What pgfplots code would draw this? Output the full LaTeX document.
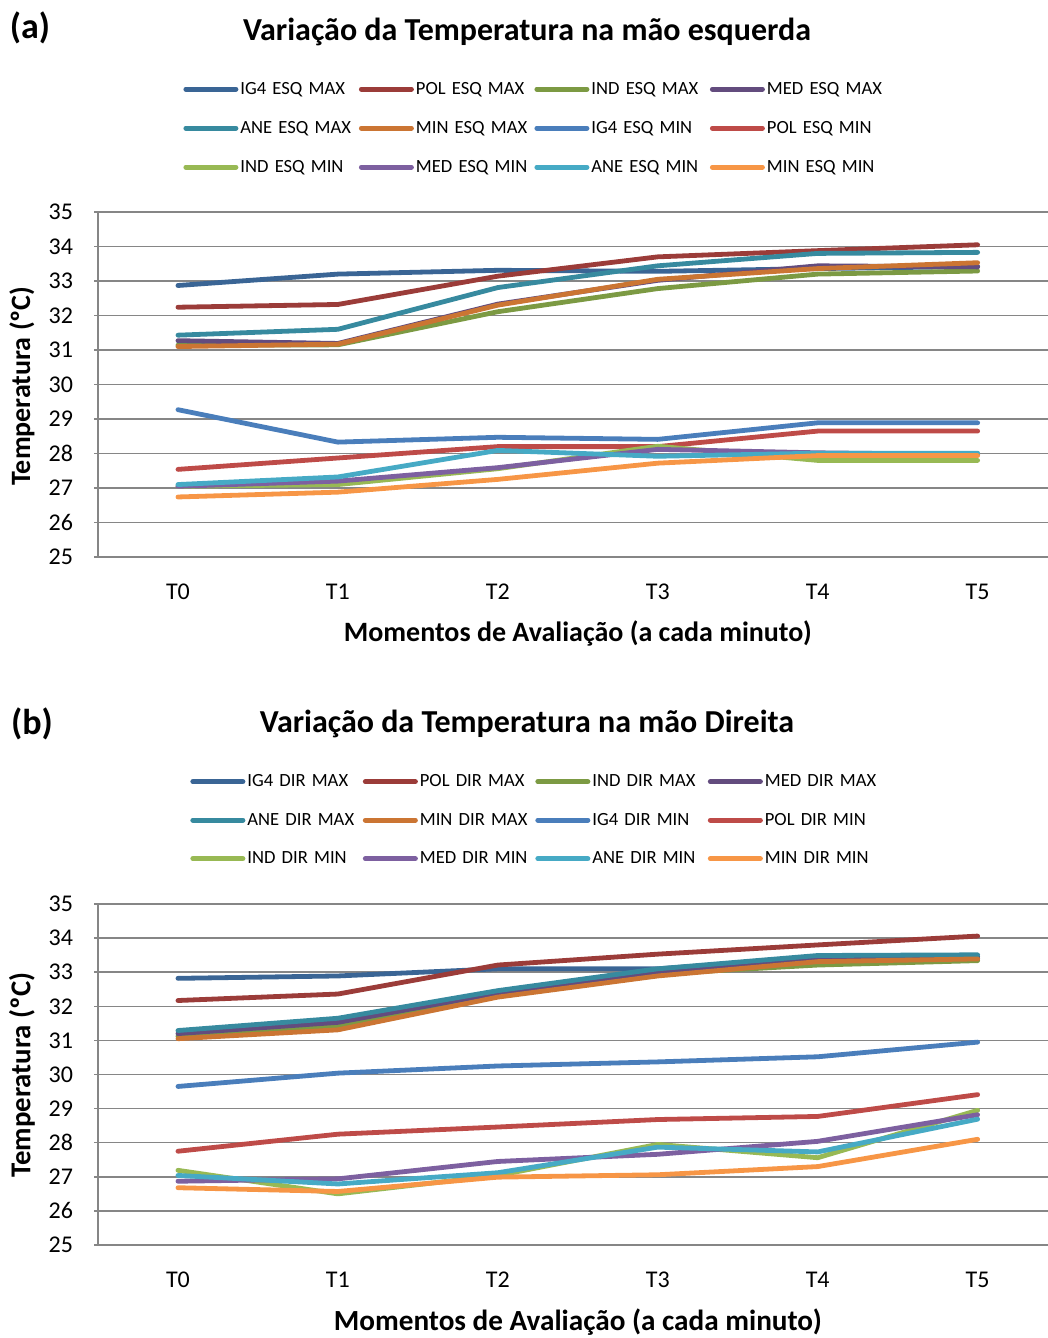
\documentclass[border=0pt]{standalone}
\usepackage{fontspec}
\setmainfont{Carlito}
\usepackage{pgfplots}
\usepackage{pgfplotstable}
\pgfplotsset{compat=1.18}

% Excel 2007 palette: darker shade for MAX series, plain for MIN series
\definecolor{igmax}{HTML}{3A6595}
\definecolor{polmax}{HTML}{9B3C39}
\definecolor{indmax}{HTML}{7C9A43}
\definecolor{medmax}{HTML}{634C7E}
\definecolor{anemax}{HTML}{378A9F}
\definecolor{minmax}{HTML}{CB7533}
\definecolor{igmin}{HTML}{4A7EBB}
\definecolor{polmin}{HTML}{BE4B48}
\definecolor{indmin}{HTML}{98B954}
\definecolor{medmin}{HTML}{7D60A0}
\definecolor{anemin}{HTML}{46AAC5}
\definecolor{minmin}{HTML}{F79646}
\definecolor{gridgray}{HTML}{868686}

% left hand
\pgfplotstableread{
t igmax polmax indmax medmax anemax minmax igmin polmin indmin medmin anemin minmin
0 32.87 32.24 31.14 31.27 31.43 31.10 29.27 27.54 27.05 27.05 27.10 26.74
1 33.20 32.32 31.15 31.19 31.60 31.17 28.33 27.87 27.10 27.20 27.32 26.88
2 33.31 33.14 32.11 32.33 32.81 32.30 28.47 28.20 27.56 27.59 28.09 27.25
3 33.28 33.70 32.78 33.02 33.44 33.05 28.41 28.20 28.21 28.12 27.92 27.72
4 33.36 33.88 33.20 33.44 33.80 33.36 28.89 28.65 27.80 28.02 28.01 27.94
5 33.42 34.05 33.29 33.41 33.83 33.53 28.89 28.65 27.80 27.97 28.01 27.94
}\esq

% right hand
\pgfplotstableread{
t igmax polmax indmax medmax anemax minmax igmin polmin indmin medmin anemin minmin
0 32.82 32.17 31.12 31.20 31.29 31.05 29.65 27.75 27.19 26.87 27.04 26.68
1 32.89 32.36 31.41 31.53 31.65 31.31 30.04 28.25 26.50 26.94 26.79 26.57
2 33.10 33.21 32.29 32.39 32.46 32.27 30.25 28.46 27.04 27.45 27.12 26.99
3 33.10 33.53 32.95 33.02 33.10 32.89 30.37 28.68 27.95 27.66 27.87 27.06
4 33.42 33.80 33.21 33.36 33.49 33.31 30.52 28.77 27.56 28.04 27.73 27.30
5 33.45 34.06 33.34 33.41 33.51 33.39 30.95 29.41 28.95 28.82 28.69 28.10
}\dir

\pgfplotsset{
  tempchart/.style={
    scale only axis, width=475pt,
    xmin=-0.5, xmax=5.44, ymin=25, ymax=35,
    ytick={25,26,...,35},
    xtick={0,...,5}, xticklabels={T0,T1,T2,T3,T4,T5},
    axis x line*=bottom, axis y line*=left,
    axis line style={draw=gridgray, line width=0.75pt, -},
    ymajorgrids, grid style={gridgray, line width=0.75pt},
    ytick style={draw=gridgray, line width=0.75pt},
    xtick style={draw=none},
    tick align=outside, major tick length=2pt,
    ticklabel style={font=\fontsize{12}{14}\selectfont},
    /pgf/number format/assume math mode=true,
    yticklabel style={xshift=-7pt},
    xticklabel style={yshift=-8pt},
    label style={font=\bfseries\fontsize{14}{16}\selectfont},
    clip=false,
    legend columns=4,
    legend cell align=left,
    legend image code/.code={\draw[##1, line width=2.5pt, line cap=round] (0pt,0pt) -- (25pt,0pt);},
    every axis plot/.append style={line width=2.4pt, line join=round, line cap=round, no marks},
  },
}
\tikzset{
  charttitle/.style={font=\bfseries\fontsize{16}{18}\selectfont, anchor=center},
  panel/.style={font=\bfseries\fontsize{18}{20}\selectfont, anchor=center},
}

\begin{document}
\begin{tikzpicture}
\useasboundingbox (0,0) rectangle (524pt,-669pt);

\begin{axis}[tempchart,
  height=172.5pt,
  at={(49pt,-278.5pt)}, anchor=south west,
  xlabel={Momentos de Avaliação (a cada minuto)},
  xlabel style={at={(0.505,-0.2203)}, anchor=center},
  ylabel={Temperatura (ºC)},
  ylabel style={at={(-0.08,0.4957)}, anchor=center},
  legend style={draw=none, inner sep=0pt, at={(0.0895,1.243)}, anchor=west,
    font=\fontsize{9.3}{11}\selectfont,
    nodes={inner xsep=1pt, inner ysep=1pt, text width=58pt, align=left, text height=7pt, text depth=2pt},
    /tikz/every even column/.append style={column sep=0.25pt},
    row sep=8.5pt},
]
\addplot[igmax]  table[x=t,y=igmax]  {\esq}; \addlegendentry{IG4 ESQ MAX}
\addplot[polmax] table[x=t,y=polmax] {\esq}; \addlegendentry{POL ESQ MAX}
\addplot[indmax] table[x=t,y=indmax] {\esq}; \addlegendentry{IND ESQ MAX}
\addplot[medmax] table[x=t,y=medmax] {\esq}; \addlegendentry{MED ESQ MAX}
\addplot[anemax] table[x=t,y=anemax] {\esq}; \addlegendentry{ANE ESQ MAX}
\addplot[minmax] table[x=t,y=minmax] {\esq}; \addlegendentry{MIN ESQ MAX}
\addplot[igmin]  table[x=t,y=igmin]  {\esq}; \addlegendentry{IG4 ESQ MIN}
\addplot[polmin] table[x=t,y=polmin] {\esq}; \addlegendentry{POL ESQ MIN}
\addplot[indmin] table[x=t,y=indmin] {\esq}; \addlegendentry{IND ESQ MIN}
\addplot[medmin] table[x=t,y=medmin] {\esq}; \addlegendentry{MED ESQ MIN}
\addplot[anemin] table[x=t,y=anemin] {\esq}; \addlegendentry{ANE ESQ MIN}
\addplot[minmin] table[x=t,y=minmin] {\esq}; \addlegendentry{MIN ESQ MIN}
\node[charttitle] at (axis description cs:0.4516,1.522) {Variação da Temperatura na mão esquerda};
\node[panel] at (axis description cs:-0.0716,1.535) {(a)};
\end{axis}

\begin{axis}[tempchart,
  height=170.5pt,
  at={(49pt,-622.5pt)}, anchor=south west,
  xlabel={Momentos de Avaliação (a cada minuto)},
  xlabel style={at={(0.505,-0.2258)}, anchor=center, font=\bfseries\fontsize{14.6}{16}\selectfont},
  ylabel={Temperatura (ºC)},
  ylabel style={at={(-0.08,0.4985)}, anchor=center, font=\bfseries\fontsize{14.4}{16}\selectfont},
  legend style={draw=none, inner sep=0pt, at={(0.0968,1.246)}, anchor=west,
    font=\fontsize{9.3}{11}\selectfont,
    nodes={inner xsep=1pt, inner ysep=1pt, text width=56pt, align=left, text height=7pt, text depth=2pt},
    /tikz/every even column/.append style={column sep=0.75pt},
    row sep=8.25pt},
]
\addplot[igmax]  table[x=t,y=igmax]  {\dir}; \addlegendentry{IG4 DIR MAX}
\addplot[polmax] table[x=t,y=polmax] {\dir}; \addlegendentry{POL DIR MAX}
\addplot[indmax] table[x=t,y=indmax] {\dir}; \addlegendentry{IND DIR MAX}
\addplot[medmax] table[x=t,y=medmax] {\dir}; \addlegendentry{MED DIR MAX}
\addplot[anemax] table[x=t,y=anemax] {\dir}; \addlegendentry{ANE DIR MAX}
\addplot[minmax] table[x=t,y=minmax] {\dir}; \addlegendentry{MIN DIR MAX}
\addplot[igmin]  table[x=t,y=igmin]  {\dir}; \addlegendentry{IG4 DIR MIN}
\addplot[polmin] table[x=t,y=polmin] {\dir}; \addlegendentry{POL DIR MIN}
\addplot[indmin] table[x=t,y=indmin] {\dir}; \addlegendentry{IND DIR MIN}
\addplot[medmin] table[x=t,y=medmin] {\dir}; \addlegendentry{MED DIR MIN}
\addplot[anemin] table[x=t,y=anemin] {\dir}; \addlegendentry{ANE DIR MIN}
\addplot[minmin] table[x=t,y=minmin] {\dir}; \addlegendentry{MIN DIR MIN}
\node[charttitle] at (axis description cs:0.4516,1.528) {Variação da Temperatura na mão Direita};
\node[panel] at (axis description cs:-0.0695,1.528) {(b)};
\end{axis}
\end{tikzpicture}
\end{document}
